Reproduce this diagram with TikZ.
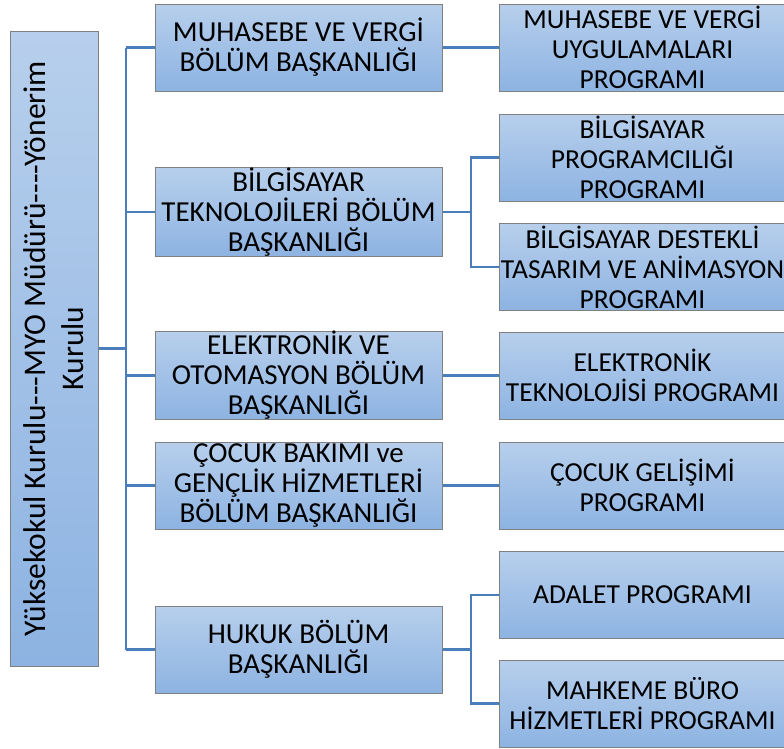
\documentclass[tikz,border=0pt]{standalone}
\usepackage{fontspec}
\setmainfont{Carlito}
\newfontfamily\leadfont{Carlito}[Ligatures=TeXOff]
\usetikzlibrary{positioning, calc}
\definecolor{boxtop}{RGB}{183,207,236}
\definecolor{boxbottom}{RGB}{141,179,226}
\definecolor{boxline}{RGB}{128,128,128}
\definecolor{linkblue}{RGB}{74,126,187}
\tikzset{>=latex}
\tikzset{
    unitbox/.style={draw=boxline, line width=1pt, top color=boxtop, bottom color=boxbottom,
        minimum width=287pt, minimum height=87pt, inner sep=0pt, align=center},
    deptbox/.style={unitbox, font=\fontsize{29}{30}\selectfont},
    progbox/.style={unitbox, font=\fontsize{27.5}{30}\selectfont},
    link/.style={draw=linkblue, line width=2.5pt}
}

\begin{document}
\begin{tikzpicture}[x=1pt, y=-1pt]
    \useasboundingbox (0,0) rectangle (784,748);
    \node[unitbox, rotate=90, minimum width=635pt, minimum height=88pt,
        font=\leadfont\fontsize{31.5}{38}\selectfont] (lead) at (54,348.5)
        {Yüksekokul Kurulu---MYO Müdürü----Yönerim\\Kurulu};
    % departments
    \node[deptbox] (muhasebe) at (298.5,47.5) {MUHASEBE VE VERGİ\\BÖLÜM BAŞKANLIĞI};
    \node[deptbox] (bilgisayar) at (298.5,212) {BİLGİSAYAR\\TEKNOLOJİLERİ BÖLÜM\\BAŞKANLIĞI};
    \node[deptbox] (elektronik) at (298.5,375.5) {ELEKTRONİK VE\\OTOMASYON BÖLÜM\\BAŞKANLIĞI};
    \node[deptbox] (cocuk) at (298.5,485.5) {ÇOCUK BAKIMI ve\\GENÇLİK HİZMETLERİ\\BÖLÜM BAŞKANLIĞI};
    \node[deptbox] (hukuk) at (298.5,649.5) {HUKUK BÖLÜM\\BAŞKANLIĞI};
    % programmes
    \node[progbox] (vergiprog) at (642.5,47.5) {MUHASEBE VE VERGİ\\UYGULAMALARI\\PROGRAMI};
    \node[progbox] (progcilik) at (642.5,157.5) {BİLGİSAYAR\\PROGRAMCILIĞI\\PROGRAMI};
    \node[progbox] (animasyon) at (642.5,267) {BİLGİSAYAR DESTEKLİ\\TASARIM VE ANİMASYON\\PROGRAMI};
    \node[progbox] (elektprog) at (642.5,375.5) {ELEKTRONİK\\TEKNOLOJİSİ PROGRAMI};
    \node[progbox] (gelisim) at (642.5,485.5) {ÇOCUK GELİŞİMİ\\PROGRAMI};
    \node[progbox] (adalet) at (642.5,595) {ADALET PROGRAMI};
    \node[progbox] (buro) at (642.5,703.5) {MAHKEME BÜRO\\HİZMETLERİ PROGRAMI};
    % connectors
    \coordinate (trunktop) at (126,47.5);
    \coordinate (trunkbot) at (126,649.5);
    \coordinate (bilfork) at (471,212);
    \coordinate (hukfork) at (471,649.5);
    \draw[link] (trunktop) -- (trunkbot);
    \draw[link] (lead.south) -- (lead.south -| trunktop);
    \foreach \dept in {muhasebe, bilgisayar, elektronik, cocuk, hukuk}
        \draw[link] (\dept.west) -- (\dept.west -| trunktop);
    \draw[link] (muhasebe.east) -- (vergiprog.west);
    \draw[link] (elektronik.east) -- (elektprog.west);
    \draw[link] (cocuk.east) -- (gelisim.west);
    \draw[link] (bilgisayar.east) -- (bilfork);
    \draw[link] (progcilik.west) -| (bilfork) |- (animasyon.west);
    \draw[link] (hukuk.east) -- (hukfork);
    \draw[link] (adalet.west) -| (hukfork) |- (buro.west);
\end{tikzpicture}
\end{document}
